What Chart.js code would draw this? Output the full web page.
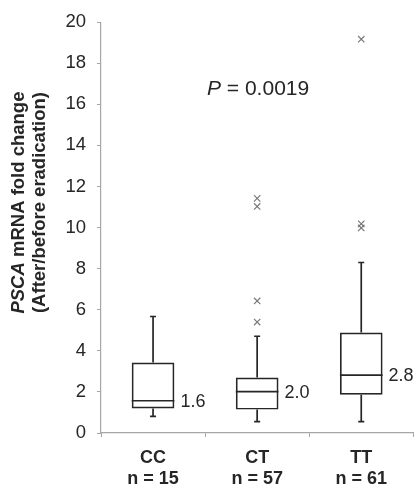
<!DOCTYPE html>
<html lang="en">
<head>
  <meta charset="UTF-8">
  <title>PSCA mRNA fold change by genotype</title>
  <script src="https://cdn.jsdelivr.net/npm/chart.js"></script>
  <style>
    html, body { margin: 0; padding: 0; background: #fff; }
    #wrap { width: 419px; height: 499px; }
  </style>
</head>
<body>
  <div id="wrap"><canvas id="boxChart" width="419" height="499"></canvas></div>

  <script>
    // Values
    const categories   = ['CC', 'CT', 'TT'];
    const nLabels      = ['n = 15', 'n = 57', 'n = 61'];
    const q1           = [1.19, 1.14, 1.86];
    const q3           = [3.43, 2.70, 4.89];
    const medians      = [1.57, 2.01, 2.82];
    const whiskerLow   = [0.81, 0.55, 0.55];
    const whiskerHigh  = [5.67, 4.71, 8.30];
    const medianLabels = ['1.6', '2.0', '2.8'];
    const outliers     = [[], [11.42, 11.03, 6.43, 5.40], [19.17, 10.18, 9.98]];
    const yTicks       = [0, 2, 4, 6, 8, 10, 12, 14, 16, 18, 20];
    const pText        = '= 0.0019';

    const FONT = "'Liberation Sans', Arial, sans-serif";
    const AXIS = '#a6a6a6';
    const INK = '#262626';

    const outlierPoints = [];
    outliers.forEach((list, i) => list.forEach(v => outlierPoints.push({ x: categories[i], y: v })));

    // whiskers, medians, labels, title and P value
    const boxExtras = {
      id: 'boxExtras',
      afterDatasetsDraw(chart) {
        const { ctx, scales: { x, y } } = chart;
        const bars = chart.getDatasetMeta(0).data;
        ctx.save();
        ctx.strokeStyle = INK;
        ctx.lineWidth = 1.7;
        categories.forEach((c, i) => {
          const cx = x.getPixelForValue(i);
          const half = bars[i].width / 2;
          const cap = 3;
          ctx.beginPath();
          ctx.moveTo(cx, y.getPixelForValue(q3[i]));
          ctx.lineTo(cx, y.getPixelForValue(whiskerHigh[i]));
          ctx.moveTo(cx, y.getPixelForValue(q1[i]));
          ctx.lineTo(cx, y.getPixelForValue(whiskerLow[i]));
          ctx.moveTo(cx - cap, y.getPixelForValue(whiskerHigh[i]));
          ctx.lineTo(cx + cap, y.getPixelForValue(whiskerHigh[i]));
          ctx.moveTo(cx - cap, y.getPixelForValue(whiskerLow[i]));
          ctx.lineTo(cx + cap, y.getPixelForValue(whiskerLow[i]));
          ctx.moveTo(cx - half, y.getPixelForValue(medians[i]));
          ctx.lineTo(cx + half, y.getPixelForValue(medians[i]));
          ctx.stroke();

          ctx.fillStyle = INK;
          ctx.font = '18px ' + FONT;
          ctx.textAlign = 'left';
          ctx.textBaseline = 'middle';
          ctx.fillText(medianLabels[i], cx + half + 6, y.getPixelForValue(medians[i]) + 1);
        });
        ctx.restore();
      },
      afterDraw(chart) {
        const { ctx, chartArea } = chart;
        ctx.save();
        ctx.fillStyle = INK;
        // P value
        ctx.textBaseline = 'alphabetic';
        ctx.textAlign = 'left';
        ctx.font = 'italic 21px ' + FONT;
        ctx.fillText('P', 207, 95);
        const pw = ctx.measureText('P ').width;
        ctx.font = '21px ' + FONT;
        ctx.fillText(pText, 207 + pw, 95);

        // rotated y title
        const midY = (chartArea.top + chartArea.bottom) / 2 - 25;
        ctx.translate(0, midY);
        ctx.rotate(-Math.PI / 2);
        ctx.font = 'bold italic 18.5px ' + FONT;
        const w1a = ctx.measureText('PSCA').width;
        ctx.font = 'bold 18.5px ' + FONT;
        const rest = ' mRNA fold change';
        const w1b = ctx.measureText(rest).width;
        const start = -(w1a + w1b) / 2;
        ctx.font = 'bold italic 18.5px ' + FONT;
        ctx.fillText('PSCA', start, 24);
        ctx.font = 'bold 18.5px ' + FONT;
        ctx.fillText(rest, start + w1a, 24);
        ctx.textAlign = 'center';
        ctx.fillText('(After/before eradication)', 0, 45);
        ctx.restore();
      }
    };

    const ctx = document.getElementById('boxChart').getContext('2d');
    new Chart(ctx, {
      data: {
        labels: categories.map((c, i) => [c, nLabels[i]]),
        datasets: [
          {
            type: 'bar',
            data: categories.map((c, i) => [q1[i], q3[i]]),
            backgroundColor: 'rgba(0,0,0,0)',
            borderColor: INK,
            borderWidth: 1.7,
            borderSkipped: false,
            categoryPercentage: 1,
            barPercentage: 0.41
          },
          {
            type: 'line',
            data: outlierPoints,
            showLine: false,
            pointStyle: 'crossRot',
            pointRadius: 4.5,
            pointBorderColor: '#7a7a7a',
            pointBorderWidth: 1.2
          }
        ]
      },
      options: {
        responsive: false,
        animation: false,
        layout: { padding: { top: 13, right: 4, left: 0, bottom: 0 } },
        plugins: { legend: { display: false }, tooltip: { enabled: false } },
        scales: {
          x: {
            type: 'category',
            labels: categories,
            offset: true,
            grid: { display: true, drawOnChartArea: false, offset: true, color: AXIS, tickLength: 4 },
            border: { color: AXIS, width: 1.2 },
            ticks: {
              color: INK,
              padding: 10,
              font: { family: FONT, size: 18, weight: 'bold' },
              callback: (v, i) => [categories[i], nLabels[i]]
            },
            afterFit: s => { s.height = 66; }
          },
          y: {
            min: 0,
            max: 20,
            afterBuildTicks: s => { s.ticks = yTicks.map(v => ({ value: v })); },
            grid: { display: true, drawOnChartArea: false, color: AXIS, tickLength: 4 },
            border: { color: AXIS, width: 1.2 },
            ticks: {
              color: INK,
              padding: 11,
              font: { family: FONT, size: 18.5 }
            },
            afterFit: s => { s.width = 101; }
          }
        }
      },
      plugins: [boxExtras]
    });
  </script>
</body>
</html>
